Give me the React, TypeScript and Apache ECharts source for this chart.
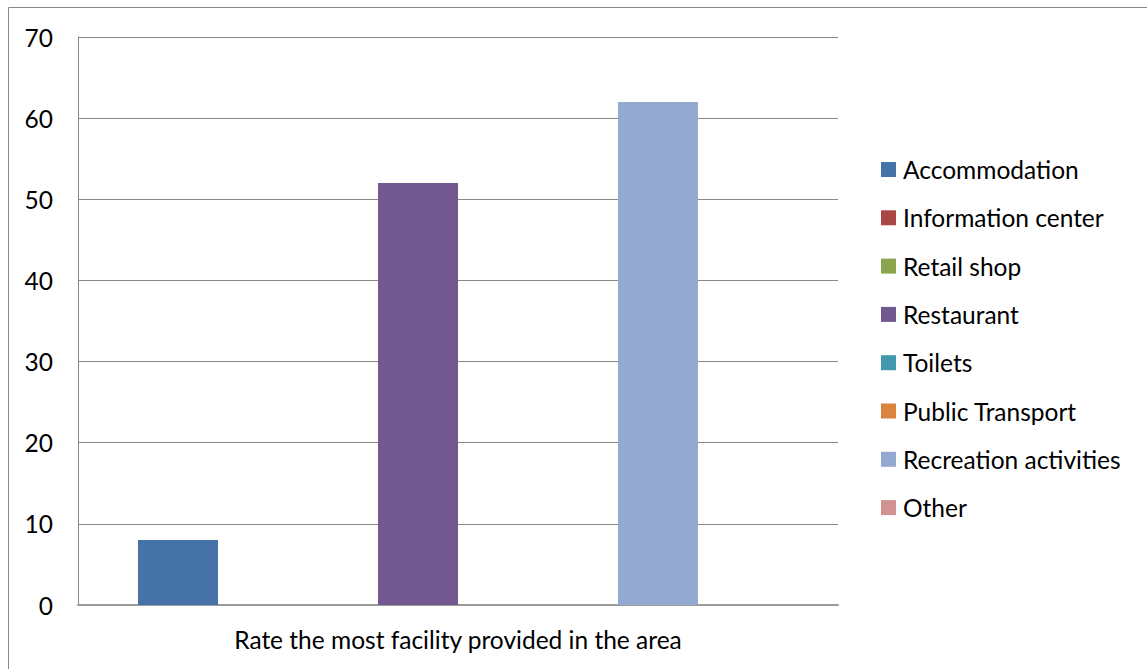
import React, { useEffect, useRef } from "react";
import * as echarts from "echarts";

const category = ["Rate the most facility provided in the area"];
const seriesNames = [
  "Accommodation",
  "Information center",
  "Retail shop",
  "Restaurant",
  "Toilets",
  "Public Transport",
  "Recreation activities",
  "Other",
];
const seriesValues = [8, 0, 0, 52, 0, 0, 62, 0];
const seriesColors = [
  "#4572A7",
  "#AA4643",
  "#89A54E",
  "#71588F",
  "#4198AF",
  "#DB843D",
  "#93A9CF",
  "#D19392",
];
const yTicks = { min: 0, max: 70, interval: 10 };

const FONT = "Lato, 'Noto Sans', sans-serif";
const FS = 24.5;

export default function App() {
  const ref = useRef<HTMLDivElement>(null);

  useEffect(() => {
    document.body.style.margin = "0";
    if (!ref.current) return;
    const chart = echarts.init(ref.current, null, { renderer: "svg" });
    chart.setOption({
      animation: false,
      backgroundColor: "#ffffff",
      textStyle: { fontFamily: FONT },
      grid: { left: 78, top: 37, right: 309, bottom: 64, containLabel: false },
      legend: {
        orient: "vertical",
        left: 881,
        top: 157,
        padding: 0,
        icon: "rect",
        itemWidth: 15,
        itemHeight: 15,
        itemGap: 23.3,
        textStyle: { fontFamily: FONT, fontSize: FS, color: "#000", lineHeight: 24, padding: [0, 0, 0, 2] },
        data: seriesNames,
      },
      xAxis: {
        type: "category",
        data: category,
        axisLine: { show: true, lineStyle: { color: "#9a9a9a", width: 2 } },
        axisTick: { show: false },
        axisLabel: { color: "#000", fontSize: FS, fontFamily: FONT, margin: 22 },
      },
      yAxis: {
        type: "value",
        min: yTicks.min,
        max: yTicks.max,
        interval: yTicks.interval,
        axisLine: { show: true, lineStyle: { color: "#888", width: 1 } },
        axisTick: { show: false },
        axisLabel: { color: "#000", fontSize: FS, fontFamily: FONT, margin: 25 },
        splitLine: { show: true, lineStyle: { color: "#888", width: 1 } },
      },
      series: seriesNames.map((name, i) => ({
        type: "bar",
        name,
        data: [seriesValues[i]],
        itemStyle: { color: seriesColors[i] },
        barGap: "0%",
        barCategoryGap: "15.79%",
      })),
      graphic: [
        {
          type: "line",
          shape: { x1: 8.5, y1: 7.5, x2: 1147, y2: 7.5 },
          style: { stroke: "#888", lineWidth: 1 },
          silent: true,
        },
        {
          type: "line",
          shape: { x1: 8.5, y1: 7.5, x2: 8.5, y2: 669 },
          style: { stroke: "#888", lineWidth: 1 },
          silent: true,
        },
      ],
    });
    return () => chart.dispose();
  }, []);

  return <div ref={ref} style={{ width: 1147, height: 669 }} />;
}
